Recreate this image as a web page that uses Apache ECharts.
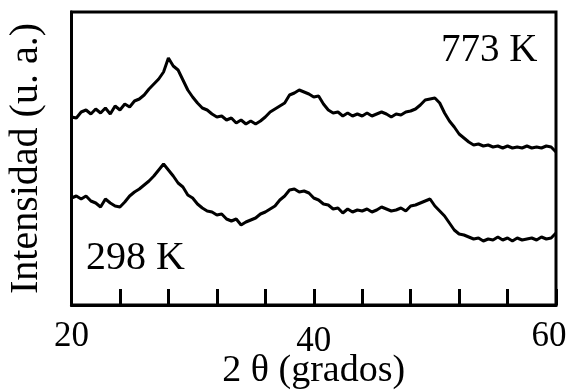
<!DOCTYPE html>
<html>
<head>
<meta charset="utf-8">
<script src="https://cdn.jsdelivr.net/npm/echarts@6/dist/echarts.min.js"></script>
<style>
html,body{margin:0;padding:0;background:#fff;}
#chart{width:570px;height:390px;}
</style>
</head>
<body>
<div id="chart"></div>
<script>
// 2θ scan positions (degrees)
var twoTheta = [20.0,20.4,20.8,21.2,21.6,22.0,22.4,22.8,23.2,23.6,
 24.0,24.4,24.8,25.2,25.6,26.0,26.4,26.8,27.2,27.6,
 28.0,28.4,28.8,29.2,29.6,30.0,30.4,30.8,31.2,31.6,
 32.0,32.4,32.8,33.2,33.6,34.0,34.4,34.8,35.2,35.6,
 36.0,36.4,36.8,37.2,37.6,38.0,38.4,38.8,39.2,39.6,
 40.0,40.4,40.8,41.2,41.6,42.0,42.4,42.8,43.2,43.6,
 44.0,44.4,44.8,45.2,45.6,46.0,46.4,46.8,47.2,47.6,
 48.0,48.4,48.8,49.2,49.6,50.0,50.4,50.8,51.2,51.6,
 52.0,52.4,52.8,53.2,53.6,54.0,54.4,54.8,55.2,55.6,
 56.0,56.4,56.8,57.2,57.6,58.0,58.4,58.8,59.2,59.6,
 60.0];
// Intensity (arbitrary units), sample annealed at 773 K (offset trace)
var int773 = [188,187,193,195,191,196,192,197,191,199,
 195,201,198,204,206,210,216,221,226,233,
 247,239,235,225,215,208,202,197,195,191,
 188,189,185,187,182,185,181,184,181,184,
 188,193,196,199,202,210,212,215,213,211,
 208,209,201,195,192,193,189,192,189,191,
 189,192,189,191,193,191,188,191,190,193,
 194,196,200,205,206,207,202,192,184,178,
 171,167,163,160,161,159,160,158,159,157,
 159,157,158,157,159,157,158,157,159,158,
 153];
// Intensity (arbitrary units), sample at 298 K
var int298 = [107,109,106,109,104,102,98,106,102,99,
 98,103,109,113,116,120,124,129,135,141,
 135,129,122,118,110,107,101,97,94,93,
 90,91,86,84,86,80,83,85,87,91,
 93,96,99,105,109,115,116,113,114,112,
 107,105,101,100,96,97,92,96,93,95,
 94,96,93,95,98,96,94,95,97,94,
 99,100,102,104,106,99,94,89,82,75,
 71,70,68,66,67,64,66,65,68,65,
 67,64,67,65,66,67,65,68,66,67,
 72];
var xLabels = ['20','40','60'];
var seriesLabels = ['773 K','298 K'];

function pairs(xs, ys){
  var out = [];
  var n = Math.min(xs.length, ys.length);
  for (var i = 0; i < n; i++) out.push([xs[i], ys[i]]);
  return out;
}

var FONT = '"Liberation Serif", "DejaVu Serif", serif';
var chart = echarts.init(document.getElementById('chart'), null, {renderer:'canvas'});
chart.setOption({
  animation:false,
  backgroundColor:'#fff',
  grid:{left:71.5, right:14, top:12, bottom:85, show:true, borderColor:'#000', borderWidth:3,
        backgroundColor:'transparent', containLabel:false, outerBoundsMode:'none'},
  xAxis:{
    type:'value', min:20, max:60, interval:4,
    name:'2 θ (grados)', nameLocation:'middle', nameGap:47, nameMoveOverlap:false,
    nameTextStyle:{fontFamily:FONT, fontSize:38, color:'#000'},
    axisLine:{show:true, lineStyle:{color:'#000', width:3}},
    axisTick:{show:true, inside:true, length:16, lineStyle:{color:'#000', width:3}},
    splitLine:{show:false},
    axisLabel:{
      fontFamily:FONT, fontSize:35, color:'#000', margin:14,
      formatter:function(v){
        var s = String(v);
        if (s === xLabels[0]) return s;
        if (s === xLabels[1]) return '{m|' + s + '}';
        if (s === xLabels[2]) return '{r|' + s + '}';
        return '';
      },
      rich:{
        m:{fontFamily:FONT, fontSize:35, color:'#000', padding:[5,0,0,0]},
        r:{fontFamily:FONT, fontSize:35, color:'#000', padding:[0,14,0,0]}
      }
    }
  },
  yAxis:{
    type:'value', min:0, max:293,
    name:'Intensidad (u. a.)', nameLocation:'middle', nameGap:25, nameMoveOverlap:false,
    nameTextStyle:{fontFamily:FONT, fontSize:40, color:'#000'},
    axisLine:{show:true, lineStyle:{color:'#000', width:3}},
    axisTick:{show:false}, axisLabel:{show:false}, splitLine:{show:false}
  },
  series:[
    {name:seriesLabels[0], type:'line', data:pairs(twoTheta,int773), showSymbol:false, symbol:'none',
     lineStyle:{color:'#000', width:3}},
    {name:seriesLabels[1], type:'line', data:pairs(twoTheta,int298), showSymbol:false, symbol:'none',
     lineStyle:{color:'#000', width:3}}
  ],
  graphic:[
    {type:'text', left:441, top:31, style:{text:seriesLabels[0], font:'39px ' + FONT, fill:'#000'}},
    {type:'text', left:86, top:238, style:{text:seriesLabels[1], font:'40px ' + FONT, fill:'#000'}}
  ]
});
</script>
</body>
</html>
